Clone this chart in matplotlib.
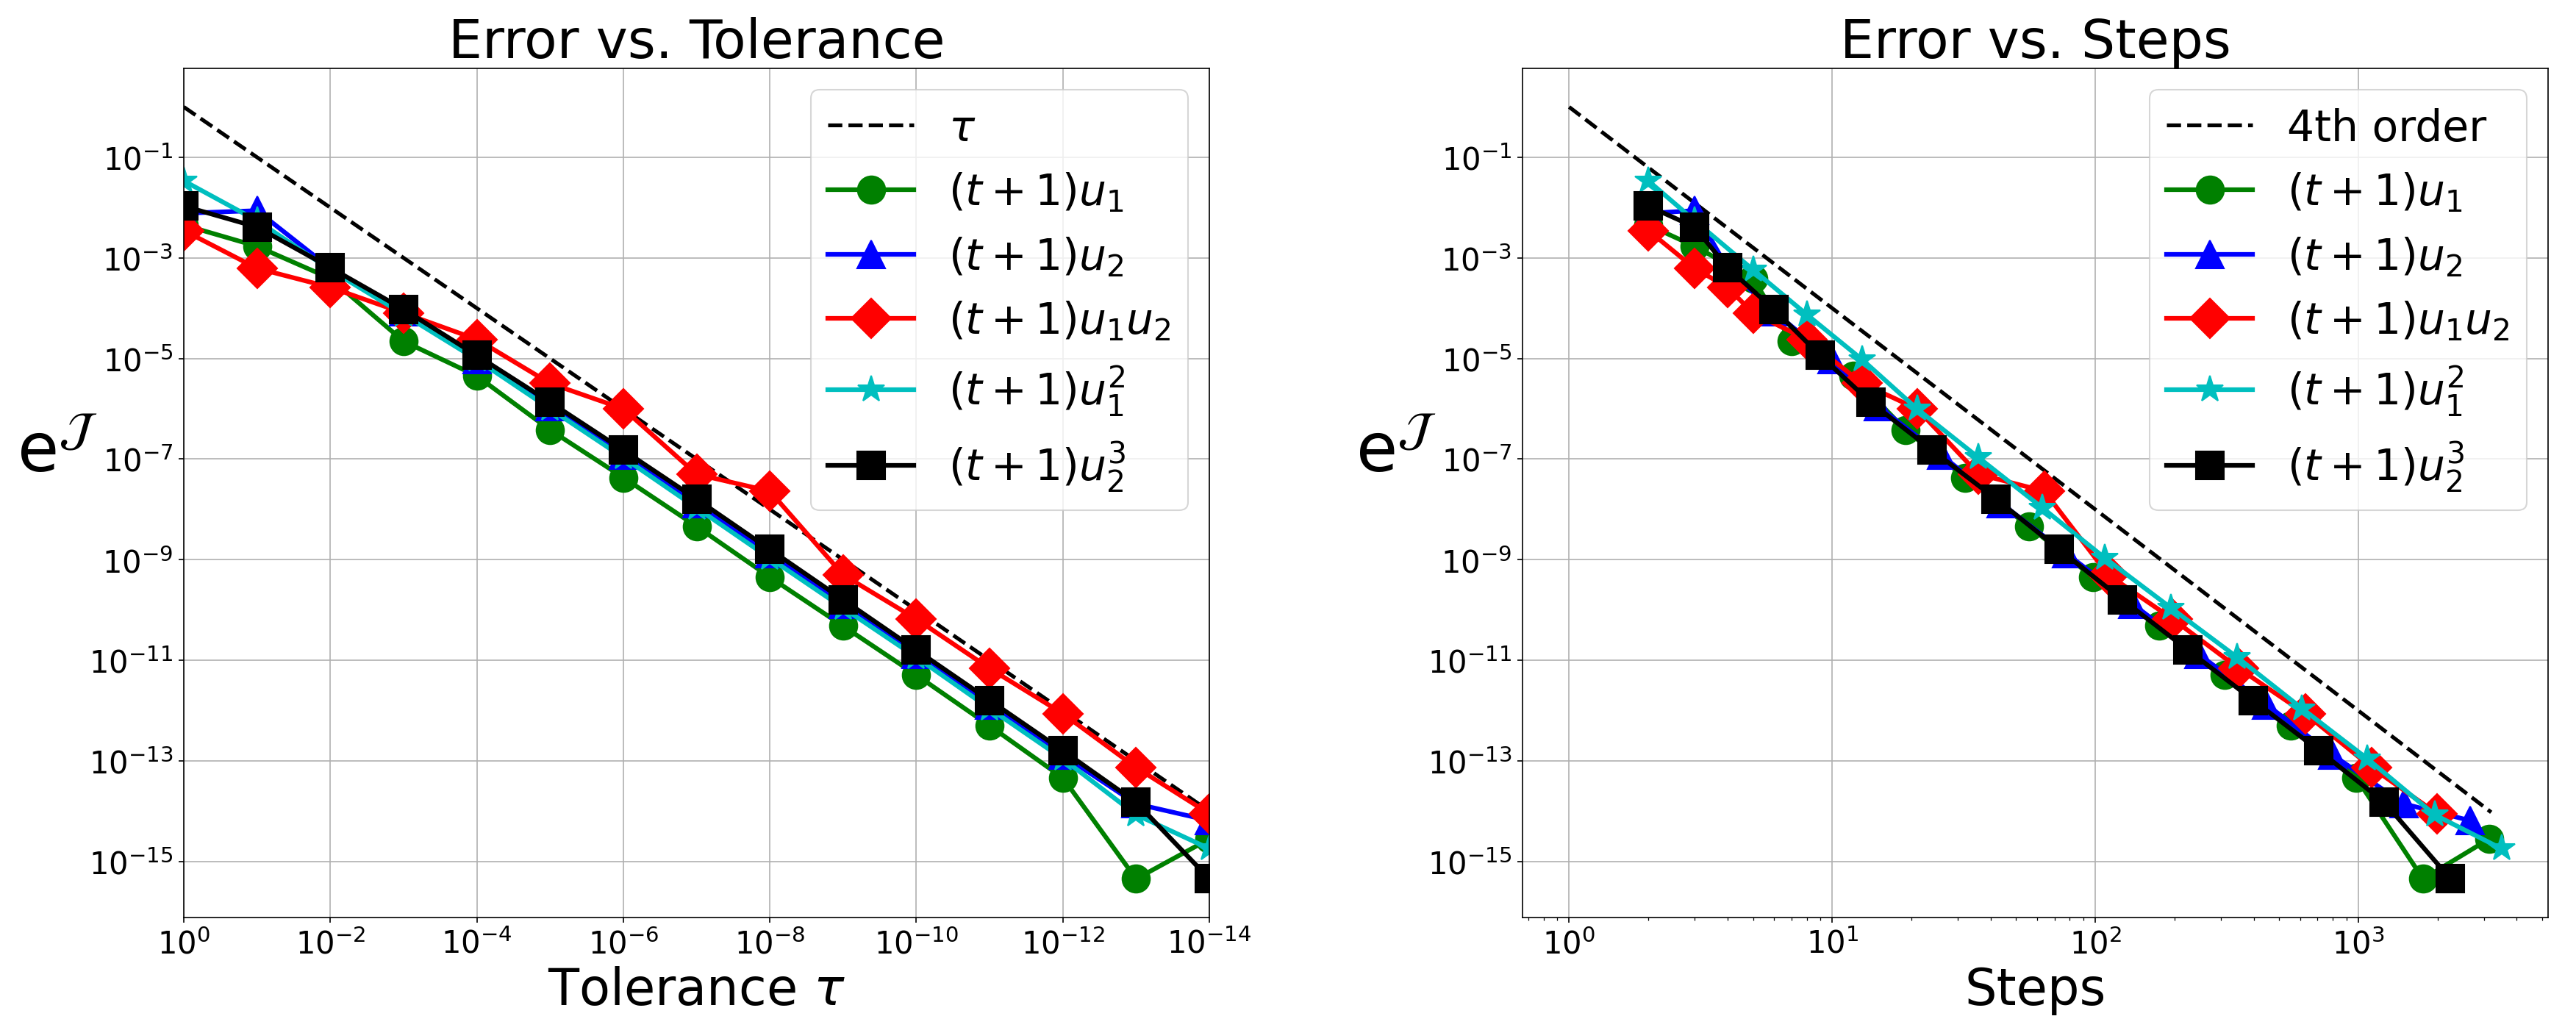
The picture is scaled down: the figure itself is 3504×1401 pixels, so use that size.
import matplotlib
matplotlib.use('Agg')
import matplotlib.pyplot as plt
from matplotlib.ticker import NullLocator

#%% data

tolerance = [1e0, 1e-1, 1e-2, 1e-3, 1e-4, 1e-5, 1e-6, 1e-7,
             1e-8, 1e-9, 1e-10, 1e-11, 1e-12, 1e-13, 1e-14]

# reference lines
tau_err = [1e0, 1e-1, 1e-2, 1e-3, 1e-4, 1e-5, 1e-6, 1e-7,
           1e-8, 1e-9, 1e-10, 1e-11, 1e-12, 1e-13, 1e-14]
order4_steps = [1, 3200]
order4_err = [1.0, 9.5e-15]

labels = [r'$(t+1)u_1$', r'$(t+1)u_2$', r'$(t+1)u_1u_2$',
          r'$(t+1)u_1^2$', r'$(t+1)u_2^3$']

err_u1 = [4.5e-3, 1.7e-3, 3.9e-4, 2.2e-5, 4.5e-6, 3.8e-7, 4.3e-8, 4.6e-9,
          4.5e-10, 4.8e-11, 5.1e-12, 5.0e-13, 4.6e-14, 4.5e-16, 2.8e-15]
err_u2 = [7.7e-3, 8.7e-3, 6.2e-4, 8.5e-5, 9.5e-6, 1.1e-6, 1.2e-7, 1.3e-8,
          1.3e-9, 1.3e-10, 1.3e-11, 1.3e-12, 1.3e-13, 1.4e-14, 6.5e-15]
err_u1u2 = [3.5e-3, 6.2e-4, 2.6e-4, 8.0e-5, 2.4e-5, 3.2e-6, 1.0e-6, 5.0e-8,
            2.3e-8, 5.0e-10, 6.6e-11, 6.9e-12, 8.7e-13, 7.4e-14, 8.9e-15]
err_u1sq = [3.4e-2, 5.5e-3, 5.8e-4, 7.5e-5, 9.5e-6, 1.0e-6, 1.07e-7, 1.07e-8,
            1.07e-9, 1.1e-10, 1.15e-11, 1.1e-12, 1.1e-13, 8.5e-15, 1.8e-15]
err_u2cb = [1.07e-2, 4.1e-3, 6.4e-4, 9.5e-5, 1.15e-5, 1.35e-6, 1.5e-7, 1.6e-8,
            1.6e-9, 1.6e-10, 1.6e-11, 1.6e-12, 1.6e-13, 1.5e-14, 4.5e-16]

steps_u1 = [2, 3, 5, 7, 12, 19, 32, 56, 98, 175, 310, 552, 982, 1762, 3140]
steps_u2 = [2, 3, 4, 6, 10, 15, 26, 44, 78, 139, 248, 449, 800, 1490, 2660]
steps_u1u2 = [2, 3, 4, 5, 8, 13, 21, 36, 64, 112, 197, 351, 629, 1123, 1993]
steps_u1sq = [2, 3, 5, 8, 13, 21, 36, 63, 109, 194, 346, 611, 1083, 1950, 3500]
steps_u2cb = [2, 3, 4, 6, 9, 14, 24, 42, 73, 127, 225, 399, 709, 1256, 2240]

errors = [err_u1, err_u2, err_u1u2, err_u1sq, err_u2cb]
steps = [steps_u1, steps_u2, steps_u1u2, steps_u1sq, steps_u2cb]
colors = ['g', 'b', 'r', 'c', 'k']
markers = ['o', '^', 'D', '*', 's']

xticks_tol = [1e0, 1e-2, 1e-4, 1e-6, 1e-8, 1e-10, 1e-12, 1e-14]
yticks_err = [1e-1, 1e-3, 1e-5, 1e-7, 1e-9, 1e-11, 1e-13, 1e-15]

#%% figure

fig = plt.figure(figsize=(3504 / 150, 1402 / 150), dpi=150)

ax1 = fig.add_axes([0.07135, 0.10913, 0.39812, 0.82382])
ax2 = fig.add_axes([0.59104, 0.10913, 0.39812, 0.82382])

# left: error vs tolerance
ax1.plot(tolerance, tau_err, 'k--', linewidth=2.5, label=r'$\tau$')
for err, c, m, lab in zip(errors, colors, markers, labels):
    ax1.plot(tolerance, err, color=c, marker=m, markersize=18,
             linewidth=3, label=lab)
ax1.set_xscale('log')
ax1.set_yscale('log')
ax1.set_xlim(1e0, 1e-14)
ax1.set_xticks(xticks_tol)
ax1.set_yticks(yticks_err)
ax1.xaxis.set_minor_locator(NullLocator())
ax1.yaxis.set_minor_locator(NullLocator())
ax1.set_title('Error vs. Tolerance', fontsize=35)
ax1.set_xlabel(r'Tolerance $\tau$', fontsize=33)

# right: error vs steps
ax2.plot(order4_steps, order4_err, 'k--', linewidth=2.5, label='4th order')
for st, err, c, m, lab in zip(steps, errors, colors, markers, labels):
    ax2.plot(st, err, color=c, marker=m, markersize=18,
             linewidth=3, label=lab)
ax2.set_xscale('log')
ax2.set_yscale('log')
ax2.set_yticks(yticks_err)
ax2.yaxis.set_minor_locator(NullLocator())
ax2.set_title('Error vs. Steps', fontsize=35)
ax2.set_xlabel('Steps', fontsize=33)

for ax in (ax1, ax2):
    # horizontal label, sitting just left of the tick labels
    ax.set_ylabel(r'e$^{\mathcal{J}}$', fontsize=44, rotation=0,
                  ha='right', va='center')
    ax.yaxis.set_label_coords(-0.084, 0.548)
    ax.tick_params(labelsize=20)
    ax.grid(True)
    ax.legend(loc='upper right', fontsize=28)

fig.savefig('out.png', dpi=150)
